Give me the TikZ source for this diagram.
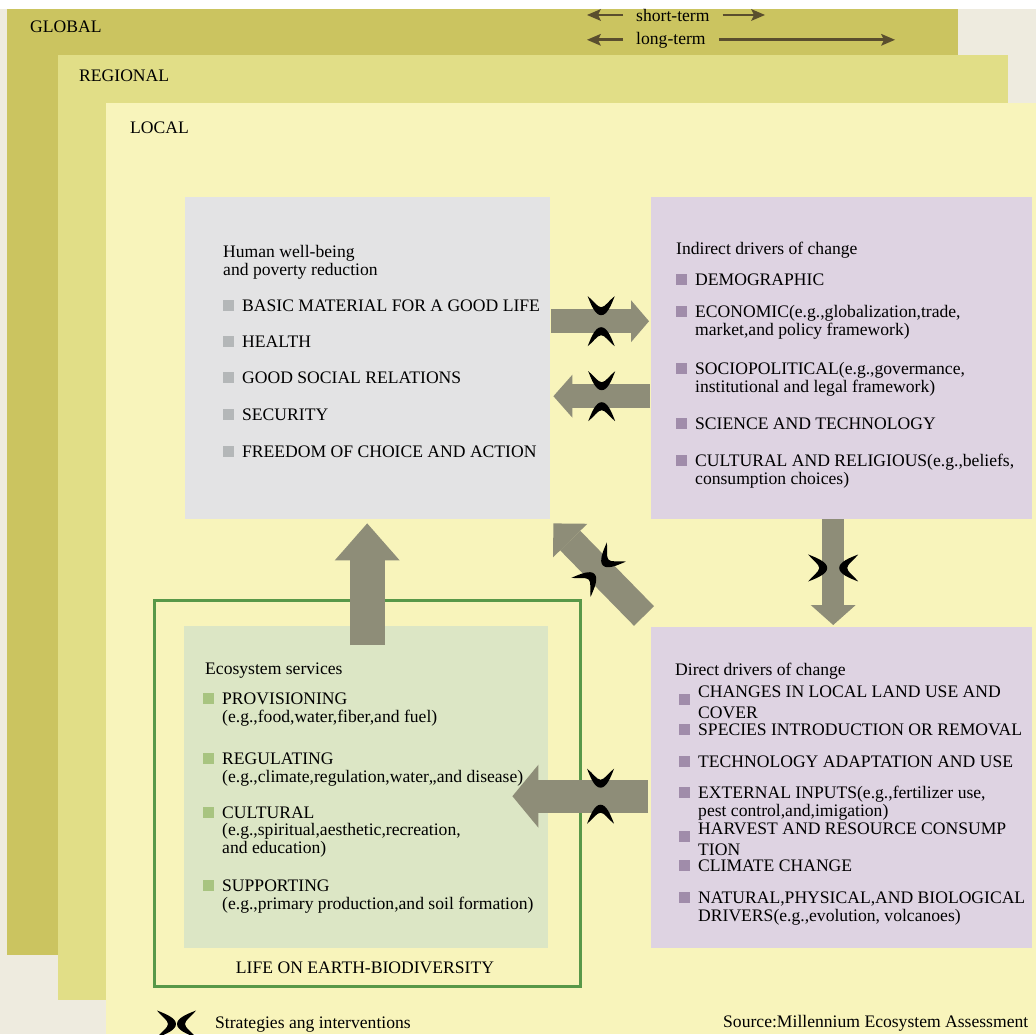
\documentclass[tikz,border=0pt]{standalone}
\usepackage{fontspec}
\setmainfont{Liberation Serif}
\usetikzlibrary{arrows.meta}

\definecolor{pagec}{RGB}{238,235,223}
\definecolor{globalc}{RGB}{203,196,96}
\definecolor{regionc}{RGB}{225,222,135}
\definecolor{localc}{RGB}{248,244,187}
\definecolor{hwc}{RGB}{227,227,228}
\definecolor{drvc}{RGB}{222,211,226}
\definecolor{ecoc}{RGB}{220,230,197}
\definecolor{framec}{RGB}{88,152,72}
\definecolor{arrowc}{RGB}{142,141,120}
\definecolor{termc}{RGB}{90,78,46}
\definecolor{hwbul}{RGB}{180,183,184}
\definecolor{drvbul}{RGB}{160,140,170}
\definecolor{ecobul}{RGB}{168,196,128}

\newcommand{\bul}[2][0.5pt]{\textcolor{#2}{\rule[#1]{11pt}{11pt}}\hspace{8pt}}
\newcommand{\indt}{\hspace*{19pt}}
% one half of the strategy mark
\newcommand{\crescent}{%
  \fill[black] (-13.5,-9) .. controls (-10,0) and (-6,10) .. (0,10)
    .. controls (6,10) and (10,0) .. (13.5,-9)
    .. controls (8,-5) and (4,2) .. (0,2)
    .. controls (-4,2) and (-8,-5) .. cycle;}

\tikzset{
  box/.style={rectangle, inner sep=0pt, anchor=north west},
  txt/.style={anchor=base west, inner sep=0pt, align=left,
    font=\fontsize{17.6}{17.5}\selectfont},
  bigarrow/.style args={#1/#2/#3}{draw=arrowc, line width=#1pt,
    -{Triangle[width=#2pt,length=#3pt,line width=0pt]}},
  termarrow/.style={draw=termc, line width=2.8pt,
    -{Stealth[length=14pt,width=12pt,inset=3pt,line width=0pt]}},
  pics/strat/.style={code={
    \begin{scope}[shift={(0,-#1)}]\crescent\end{scope}
    \begin{scope}[shift={(0,#1)}, rotate=180]\crescent\end{scope}}}
}

\begin{document}
\begin{tikzpicture}[x=1pt,y=-1pt]
\useasboundingbox (0,0) rectangle (1036,1034);

% scale layers
\fill[white] (0,0) rectangle (1036,1034);
\fill[pagec] (0,9) rectangle (1036,1034);
\fill[globalc] (7,9) rectangle (958,955);
\fill[regionc] (58,55) rectangle (1008,1000);
\fill[localc] (106,103) rectangle (1036,1034);

\node[txt] (glob) at (30,32) {GLOBAL};
\node[txt] (regio) at (79,81) {REGIONAL};
\node[txt] (loc) at (130,133) {LOCAL};

% time scales
\node[txt, inner xsep=13pt] (st) at (623,21) {short-term};
\node[txt, inner xsep=13pt] (lt) at (623,44) {long-term};
\coordinate (stl) at (587,0);
\coordinate (str) at (765,0);
\coordinate (ltr) at (895,0);
\draw[termarrow] (st.west) -- (st.west -| stl);
\draw[termarrow] (st.east) -- (st.east -| str);
\draw[termarrow] (lt.west) -- (lt.west -| stl);
\draw[termarrow] (lt.east) -- (lt.east -| ltr);

% boxes
\node[box, fill=hwc, minimum width=365pt, minimum height=322pt] (hw) at (185,197) {};
\node[box, fill=drvc, minimum width=381pt, minimum height=322pt] (ind) at (651,197) {};
\node[box, fill=drvc, minimum width=381pt, minimum height=321pt] (dir) at (651,627) {};
\node[box, draw=framec, line width=3pt, minimum width=426pt, minimum height=386pt] (bio) at (153,599) {};
\node[box, fill=ecoc, minimum width=364pt, minimum height=322pt] (eco) at (184,626) {};

% human well-being (multi-line nodes sit on their last line)
\node[txt] (hwt) at (223,275) {Human well-being\\and poverty reduction};
\node[txt] (hw1) at (223,311) {\bul{hwbul}BASIC MATERIAL FOR A GOOD LIFE};
\node[txt] (hw2) at (223,347) {\bul{hwbul}HEALTH};
\node[txt] (hw3) at (223,383) {\bul{hwbul}GOOD SOCIAL RELATIONS};
\node[txt] (hw4) at (223,420) {\bul{hwbul}SECURITY};
\node[txt] (hw5) at (223,457) {\bul{hwbul}FREEDOM OF CHOICE AND ACTION};

% indirect drivers
\node[txt] (indt) at (676,254) {Indirect drivers of change};
\node[txt] (ind1) at (676,285) {\bul{drvbul}DEMOGRAPHIC};
\node[txt] (ind2) at (676,335) {\bul{drvbul}ECONOMIC(e.g.,globalization,trade,\\\indt market,and policy framework)};
\node[txt] (ind3) at (676,392) {\bul{drvbul}SOCIOPOLITICAL(e.g.,govermance,\\\indt institutional and legal framework)};
\node[txt] (ind4) at (676,429) {\bul{drvbul}SCIENCE AND TECHNOLOGY};
\node[txt] (ind5) at (676,484) {\bul{drvbul}CULTURAL AND RELIGIOUS(e.g.,beliefs,\\\indt consumption choices)};

% direct drivers
\node[txt] (dirt) at (675,675) {Direct drivers of change};
\node[txt] (dir1) at (679,718) {\bul[-8pt]{drvbul}CHANGES IN LOCAL LAND USE AND\\\indt COVER};
\node[txt] (dir2) at (679,735) {\bul{drvbul}SPECIES INTRODUCTION OR REMOVAL};
\node[txt] (dir3) at (679,767) {\bul{drvbul}TECHNOLOGY ADAPTATION AND USE};
\node[txt] (dir4) at (679,816) {\bul{drvbul}EXTERNAL INPUTS(e.g.,fertilizer use,\\\indt pest control,and,imigation)};
\node[txt] (dir5) at (679,855) {\bul[-8pt]{drvbul}HARVEST AND RESOURCE CONSUMP\\\indt TION};
\node[txt] (dir6) at (679,871) {\bul{drvbul}CLIMATE CHANGE};
\node[txt] (dir7) at (679,921) {\bul{drvbul}NATURAL,PHYSICAL,AND BIOLOGICAL\\\indt DRIVERS(e.g.,evolution, volcanoes)};

% ecosystem services
\node[txt] (ecot) at (205,674) {Ecosystem services};
\node[txt] (eco1) at (203,722) {\bul{ecobul}PROVISIONING\\\indt (e.g.,food,water,fiber,and fuel)};
\node[txt] (eco2) at (203,782) {\bul{ecobul}REGULATING\\\indt (e.g.,climate,regulation,water,,and disease)};
\node[txt] (eco3) at (203,853) {\bul{ecobul}CULTURAL\\\indt (e.g.,spiritual,aesthetic,recreation,\\\indt and education)};
\node[txt] (eco4) at (203,909) {\bul{ecobul}SUPPORTING\\\indt (e.g.,primary production,and soil formation)};
\node[txt, anchor=base] (biot) at (365,973) {LIFE ON EARTH-BIODIVERSITY};

% links
\draw[bigarrow=24/42/18] ([shift={(1,-37)}]hw.east) -- coordinate[pos=.51] (m1) ([shift={(-2,-37)}]ind.west);
\draw[bigarrow=24/43/19] ([shift={(-1,38)}]ind.west) -- coordinate[pos=.5] (m2) ([shift={(3,38)}]hw.east);
\draw[bigarrow=35/65/37] ([shift={(1,19)}]eco.north) -- ([shift={(-0.5,4)}]hw.south);
\draw[bigarrow=22/45/20] ([shift={(-8.5,0)}]ind.south) -- coordinate[pos=.46] (m4) ([shift={(-8.5,-2)}]dir.north);
\draw[bigarrow=28/48/24] ([shift={(-7,-11)}]dir.north west) -- coordinate[pos=.5] (m5) ([shift={(3,4)}]hw.south east);
\draw[bigarrow=33/63/26] ([shift={(-3,8.5)}]dir.west) -- coordinate[pos=.35] (m6) ([shift={(-36,9)}]eco.east);

% strategies and interventions
\pic at (m1) {strat=16};
\pic at (m2) {strat=16};
\pic[rotate=90] at (m4) {strat=16};
\pic[rotate=-45] at (m5) {strat=16};
\pic at (m6) {strat=18.5};
\pic[rotate=90] at (176.5,1024) {strat=10.5};

\node[txt] (legt) at (215,1028) {Strategies ang interventions};
\node[txt] (src) at (723,1027) {Source:Millennium Ecosystem Assessment};
\end{tikzpicture}
\end{document}
